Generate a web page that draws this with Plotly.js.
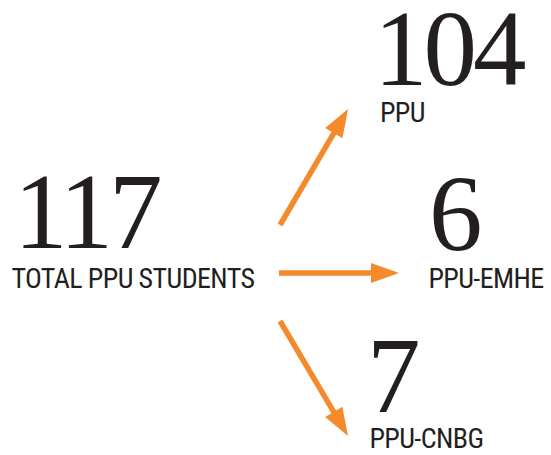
<!DOCTYPE html>
<html><head><meta charset="utf-8">
<script src="https://cdn.plot.ly/plotly-3.0.1.min.js"></script>
<style>
body{margin:0;background:#fff;}
#chart{width:551px;height:455px;}
/* tighter tracking, closer to the condensed display faces of the original */
#chart text.annotation-text[style*="107px"]{letter-spacing:-4px;}
#chart text.annotation-text[style*="28px"]{letter-spacing:-0.6px;}
</style>
</head><body>
<div id="chart"></div>
<script>
// ---- data ----
var totalValue = 117;
var totalLabel = "TOTAL PPU STUDENTS";
var groupLabels = ["PPU", "PPU-EMHE", "PPU-CNBG"];
var groupValues = [104, 6, 7];

// ---- layout config (positions in px on a 551x455 canvas) ----
var numberFont = {family: "Liberation Serif, serif", size: 107, color: "#231f20"};
var labelFont = {family: "Roboto Condensed, Roboto, sans-serif", size: 28, color: "#231f20"};
var arrowColor = "#f58a2d";

var totalPos = {numX: 8, numY: 248, labX: 6, labY: 288};
var groupPos = [
  {numX: 368, numY: 85, labX: 379, labY: 122},
  {numX: 427, numY: 250, labX: 426, labY: 288},
  {numX: 365, numY: 412, labX: 367, labY: 448}
];
var arrows = [
  {from: [280, 225], to: [348, 109]},
  {from: [279, 273], to: [399, 273]},
  {from: [280, 321], to: [348, 436]}
];
var headLen = 28, headHalf = 10, shaftW = 5.5;

function numAnno(v, x, yBase) {
  return {x: x, y: yBase, xref: "x", yref: "y", text: String(v), showarrow: false,
    xanchor: "left", yanchor: "bottom", yshift: -0.216 * numberFont.size,
    font: numberFont, borderpad: 0, borderwidth: 0};
}
function labAnno(t, x, yBase) {
  return {x: x, y: yBase, xref: "x", yref: "y", text: t, showarrow: false,
    xanchor: "left", yanchor: "bottom", yshift: -0.25 * labelFont.size,
    font: labelFont, borderpad: 0, borderwidth: 0};
}

var annotations = [numAnno(totalValue, totalPos.numX, totalPos.numY),
                   labAnno(totalLabel, totalPos.labX, totalPos.labY)];
groupLabels.forEach(function (lab, i) {
  annotations.push(numAnno(groupValues[i], groupPos[i].numX, groupPos[i].numY));
  annotations.push(labAnno(lab, groupPos[i].labX, groupPos[i].labY));
});

var shapes = [];
arrows.forEach(function (a) {
  var dx = a.to[0] - a.from[0], dy = a.to[1] - a.from[1];
  var len = Math.sqrt(dx * dx + dy * dy);
  var ux = dx / len, uy = dy / len, nx = -uy, ny = ux;
  var bx = a.to[0] - ux * headLen, by = a.to[1] - uy * headLen;
  shapes.push({type: "line", xref: "x", yref: "y", x0: a.from[0], y0: a.from[1],
    x1: bx + ux * 2, y1: by + uy * 2, line: {color: arrowColor, width: shaftW}});
  shapes.push({type: "path", xref: "x", yref: "y",
    path: "M" + a.to[0] + "," + a.to[1] + " L" + (bx + nx * headHalf) + "," + (by + ny * headHalf) +
          " L" + (bx - nx * headHalf) + "," + (by - ny * headHalf) + " Z",
    fillcolor: arrowColor, line: {width: 0}});
});

var layout = {
  width: 551, height: 455,
  margin: {l: 0, r: 0, t: 0, b: 0, pad: 0},
  paper_bgcolor: "#ffffff", plot_bgcolor: "#ffffff",
  xaxis: {range: [0, 551], visible: false, fixedrange: true},
  yaxis: {range: [455, 0], visible: false, fixedrange: true},
  showlegend: false,
  annotations: annotations,
  shapes: shapes
};

Plotly.newPlot("chart", [], layout, {displayModeBar: false, staticPlot: true});
</script>
</body></html>
